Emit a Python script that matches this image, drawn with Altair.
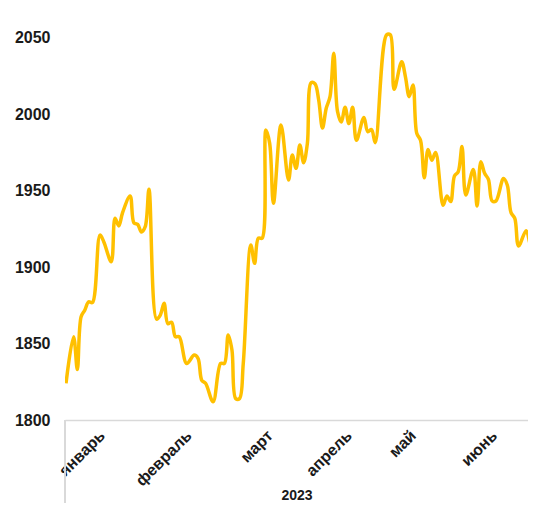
import altair as alt
import pandas as pd

# trading-day index (Jan..Jun 2023) and gold price, USD/oz
day = [0, 2, 3, 4, 5, 6, 7, 9, 10, 12, 13, 14, 15, 17, 18, 19, 20, 21, 22,
       24, 25, 26, 27, 28, 29, 30, 32, 34, 35, 36, 37, 39, 41, 42, 43, 44,
       45, 46, 47, 49, 50, 51, 52, 53, 54, 55, 57, 59, 60, 61, 62, 63, 64,
       65, 66, 67, 68, 69, 70, 71, 72, 73, 74, 75, 76, 77, 79, 80, 81, 82,
       85, 86, 87, 89, 90, 91, 92, 93, 94, 95, 96, 97, 98, 100, 101, 102,
       103, 104, 105, 106, 108, 109, 110, 111, 112, 113, 114, 116, 117, 118,
       119, 120, 122, 123, 124]
price = [1824, 1854.5, 1833, 1867.6, 1872, 1877.4, 1876.8, 1921, 1916.7,
         1903.6, 1932, 1927, 1935.7, 1946.6, 1929, 1928, 1923, 1926.5, 1951,
         1866, 1868.7, 1876.4, 1863, 1864, 1854.5, 1854.5, 1837, 1842.5,
         1840.4, 1826, 1824, 1812, 1837, 1837, 1855.6, 1845.8, 1814, 1814,
         1837, 1914.5, 1902.5, 1919, 1919, 1989.8, 1981, 1941.8, 1993, 1957,
         1973.4, 1964.7, 1980, 1968.4, 1981, 2020.7, 2020, 2009.4, 1991, 2004,
         2011.6, 2040, 2001.8, 1995, 2004.6, 1994, 2004.6, 1983, 1998, 1988.7,
         1990, 1981.5, 2052, 2052, 2016.4, 2034.5, 2024.6, 2011.6, 2019.2,
         1987.6, 1983, 1958.6, 1977, 1970, 1975, 1940.5, 1946.6, 1942.9,
         1959.7, 1962.5, 1978.9, 1947.3, 1964, 1940, 1969, 1961.4, 1957.5,
         1943.3, 1943.3, 1958, 1953.8, 1935.7, 1932, 1913.9, 1923.9, 1915.6,
         1908]

month_names = ["январь", "февраль", "март", "апрель", "май", "июнь"]
month_pos = [8, 31, 52.5, 73.5, 90.5, 112]
y_ticks = [1800, 1850, 1900, 1950, 2000, 2050]
year_label = "2023"

df = pd.DataFrame({"day": day, "price": price})

label_expr = ""
for p, n in zip(month_pos, month_names):
    label_expr += f"datum.value == {p} ? '{n}' : "
label_expr += "''"

FONT = "Liberation Sans"

line = alt.Chart(df).mark_line(
    color="#FFC000", strokeWidth=3.5, interpolate="catmull-rom", clip=True
).encode(
    x=alt.X("day:Q",
            scale=alt.Scale(domain=[-0.27, 122.5], nice=False, zero=False),
            axis=alt.Axis(values=month_pos, labelExpr=label_expr,
                          labelAngle=-45, labelAlign="right", labelBaseline="top",
                          labelFontSize=16, labelFontWeight="bold",
                          labelColor="#1a1a1a", labelFont=FONT,
                          labelPadding=7, ticks=False, grid=False,
                          domainColor="#d9d9d9", domainWidth=1.5,
                          title=year_label, titleFont=FONT, titleFontSize=14,
                          titleFontWeight="bold", titleColor="#1a1a1a",
                          titleY=82, titleBaseline="bottom")),
    y=alt.Y("price:Q",
            scale=alt.Scale(domain=[1800, 2069.6], nice=False, zero=False),
            axis=alt.Axis(values=y_ticks, format="d", labelFontSize=16,
                          labelFontWeight="bold",
                          labelColor="#1a1a1a", labelFont=FONT, labelPadding=15,
                          ticks=False, domain=False, grid=False, title=None)),
)

divider = alt.Chart(df).mark_rule(color="#d9d9d9", strokeWidth=1.5).encode(
    x=alt.value(0), y=alt.value(412), y2=alt.value(520)
)

chart = alt.layer(line, divider).properties(
    width=463, height=412,
    autosize=alt.AutoSizeParams(type="none"),
    padding={"left": 57, "top": 0, "right": 0, "bottom": 83},
    background="white",
).configure_view(stroke=None)

chart.save("out.html", embed_options={"renderer": "svg", "actions": False})
